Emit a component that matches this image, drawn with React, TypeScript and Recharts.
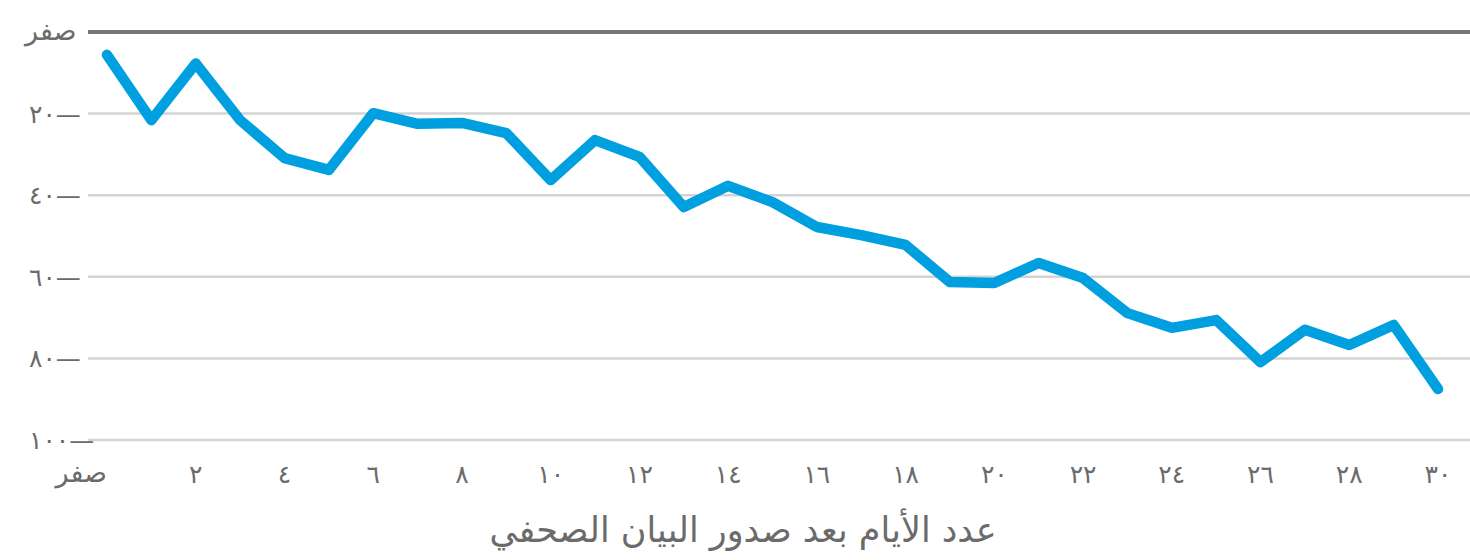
import { LineChart, Line, XAxis, YAxis, CartesianGrid, ReferenceLine } from "recharts";

const days = [0, 1, 2, 3, 4, 5, 6, 7, 8, 9, 10, 11, 12, 13, 14, 15, 16, 17, 18, 19, 20, 21, 22, 23, 24, 25, 26, 27, 28, 29, 30];
const change = [
  -5.6, -21.6, -7.7, -21.6, -30.9, -33.8, -19.9, -22.5, -22.3, -24.8, -36.3, -26.5, -30.6, -42.9, -37.7,
  -41.7, -47.8, -49.8, -52.2, -61.3, -61.5, -56.6, -60.3, -68.9, -72.5, -70.6, -80.9, -73, -76.7, -71.8, -87.5,
];
const xTicks = [0, 2, 4, 6, 8, 10, 12, 14, 16, 18, 20, 22, 24, 26, 28, 30];
const yTicks = [0, -20, -40, -60, -80, -100];
const zeroLabel = "صفر";
const xTitle = "عدد الأيام بعد صدور البيان الصحفي";

const data = days.map((d, i) => ({ day: d, value: change[i] }));

const TEXT = "#6b6b6b";
const FONT = "'DejaVu Sans', sans-serif";

// western digits -> arabic-indic digits
const toArabic = (n: number) =>
  String(Math.abs(n)).replace(/[0-9]/g, (c) => String.fromCharCode(0x0660 + Number(c)));

function YTick(props: any) {
  const { y, payload } = props;
  if (payload.value === 0) {
    return (
      <text x={25} y={y} dy={8} fill={TEXT} fontSize={27} fontFamily={FONT} textAnchor="start">
        {zeroLabel}
      </text>
    );
  }
  return (
    <text
      x={29}
      y={y}
      dy={9}
      fill={TEXT}
      fontSize={25}
      fontFamily={FONT}
      textAnchor="start"
      style={{ direction: "ltr", unicodeBidi: "bidi-override" }}
    >
      {toArabic(payload.value) + "—"}
    </text>
  );
}

function XTick(props: any) {
  const { x, y, payload } = props;
  const isZero = payload.value === 0;
  return (
    <text
      x={x}
      y={y}
      dy={isZero ? 34 : 35}
      fill={TEXT}
      fontSize={isZero ? 27 : 25}
      fontFamily={FONT}
      textAnchor={isZero ? "end" : "middle"}
    >
      {isZero ? zeroLabel : toArabic(payload.value)}
    </text>
  );
}

function XTitle(props: any) {
  const { viewBox } = props;
  return (
    <text x={743} y={viewBox.y + 102} fill={TEXT} fontSize={35} fontFamily={FONT} textAnchor="middle">
      {xTitle}
    </text>
  );
}

export default function App() {
  return (
    <div style={{ position: "absolute", left: 0, top: 0, width: 1470, height: 560, background: "#fff" }}>
      <LineChart width={1470} height={560} data={data} margin={{ top: 32, right: 0, bottom: 0, left: 0 }}>
        <CartesianGrid vertical={false} stroke="#d3d3d3" strokeWidth={2.5} />
        <XAxis
          dataKey="day"
          type="number"
          domain={[0, 30]}
          ticks={xTicks}
          axisLine={false}
          tickLine={false}
          height={120}
          padding={{ left: 19, right: 32 }}
          tick={<XTick />}
          label={<XTitle />}
        />
        <YAxis
          domain={[-100, 0]}
          ticks={yTicks}
          width={88}
          axisLine={false}
          tickLine={false}
          tick={<YTick />}
        />
        <ReferenceLine y={0} stroke="#777777" strokeWidth={4} />
        <Line
          dataKey="value"
          stroke="#009fdf"
          strokeWidth={10.5}
          strokeLinecap="round"
          strokeLinejoin="round"
          dot={false}
          activeDot={false}
          isAnimationActive={false}
        />
      </LineChart>
    </div>
  );
}
